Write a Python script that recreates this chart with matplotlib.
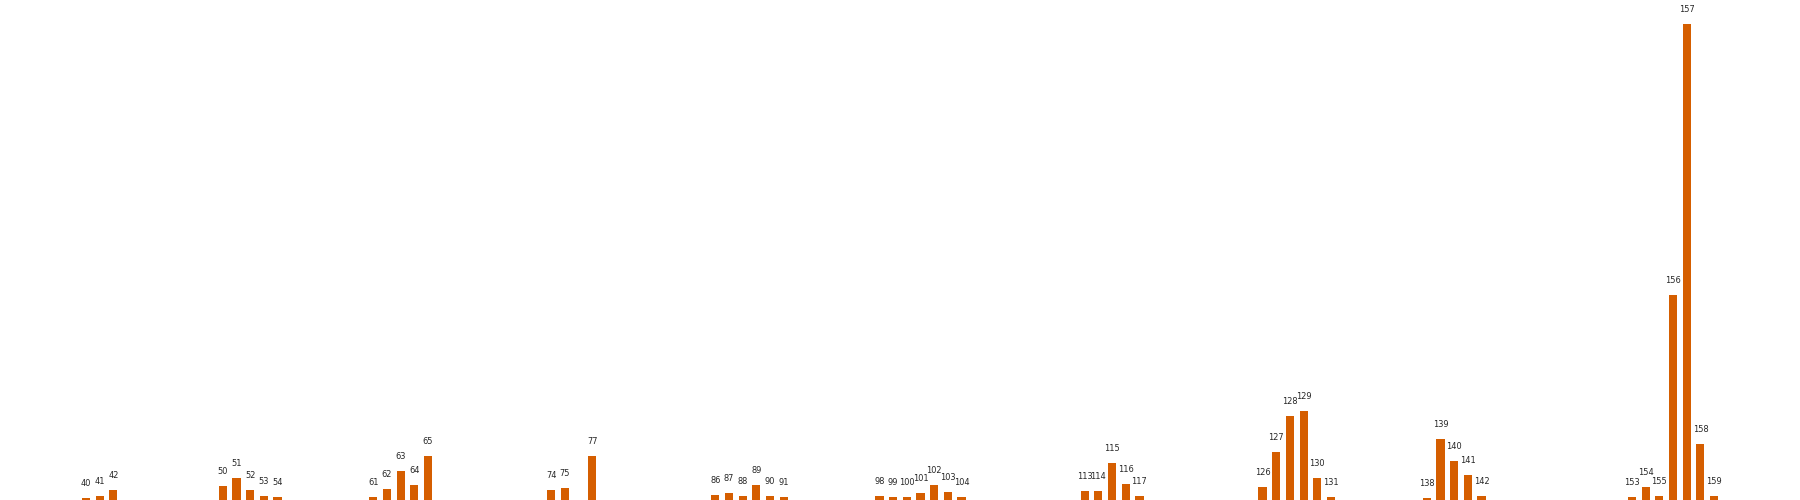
import matplotlib

matplotlib.use("Agg")
import matplotlib.pyplot as plt

# bar positions (also used as the label above each bar)
positions = [40, 41, 42, 50, 51, 52, 53, 54, 61, 62, 63, 64, 65,
             74, 75, 77, 86, 87, 88, 89, 90, 91, 98, 99, 100, 101, 102, 103, 104,
             113, 114, 115, 116, 117, 126, 127, 128, 129, 130, 131,
             138, 139, 140, 141, 142, 153, 154, 155, 156, 157, 158, 159]
heights = [2, 4, 10, 14, 22, 10, 4, 3, 3, 11, 29, 15, 44,
           10, 12, 44, 5, 7, 4, 15, 4, 3, 4, 3, 3, 7, 15, 8, 3,
           9, 9, 37, 16, 4, 13, 48, 84, 89, 22, 3,
           2, 61, 39, 25, 4, 3, 13, 4, 205, 476, 56, 4]

BAR_COLOR = "#D55E00"

fig = plt.figure(figsize=(18, 5), dpi=100)
ax = fig.add_axes([0, 0, 1, 1])
ax.bar(positions, heights, width=0.6, color=BAR_COLOR)
for x, h in zip(positions, heights):
    ax.annotate(str(x), (x, h), xytext=(0, 7), textcoords="offset points",
                ha="center", va="bottom", fontsize=6.6, color="#262626",
                family="DejaVu Sans", fontstretch="condensed")
ax.axis("off")
fig.savefig("out.png", dpi=100)
